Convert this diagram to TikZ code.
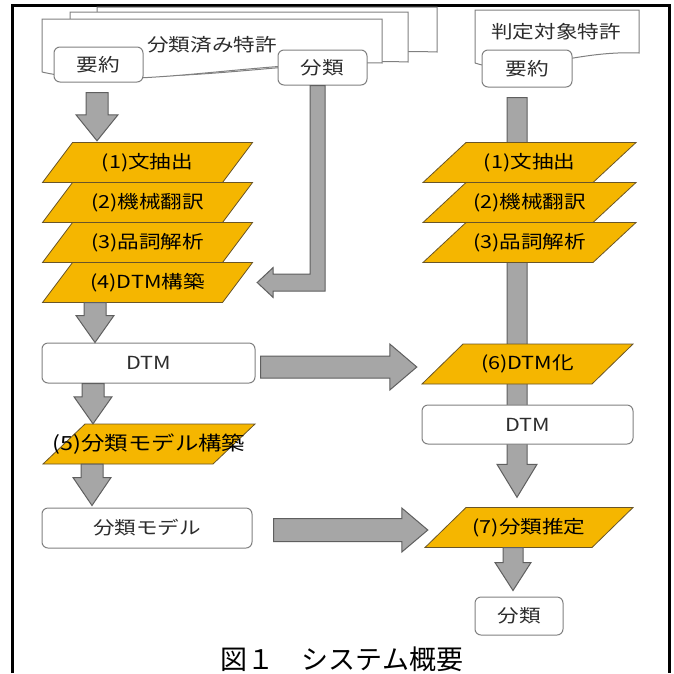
\documentclass[tikz,border=0pt]{standalone}
\usepackage{fontspec}
\newfontfamily\jpfont[FakeStretch=1.2]{Noto Sans CJK JP}
\newfontfamily\titlefont{Noto Sans CJK JP}
\usetikzlibrary{calc}
\definecolor{gold}{RGB}{245,182,0}
\definecolor{golddraw}{RGB}{105,85,40}
\definecolor{arrowfill}{RGB}{166,166,166}
\definecolor{arrowdraw}{RGB}{95,95,95}
\definecolor{boxdraw}{RGB}{128,128,128}
\definecolor{txt}{RGB}{45,45,45}
\pgfdeclarelayer{bg}
\pgfsetlayers{bg,main}
\newcommand\para[6]{%
  \path[pshape] (#2-#4/2+#5/2,#3-20) -- (#2+#4/2+#5/2,#3-20) -- (#2+#4/2-#5/2,#3+20) -- (#2-#4/2-#5/2,#3+20) -- cycle;
  \node[ptext, minimum width=#4, minimum height=40] (#1) at (#2,#3) {#6};
}
\newcommand\vblock[5]{%
  \draw[barrow] let \p1=(#1), \p2=(#2) in
   (\x1-#3pt,\y1) -- (\x1+#3pt,\y1) -- (\x1+#3pt,\y2+#5pt) -- (\x1+#4pt,\y2+#5pt) -- (\x1,\y2) -- (\x1-#4pt,\y2+#5pt) -- (\x1-#3pt,\y2+#5pt) -- cycle;
}
\newcommand\hblock[5]{%
  \draw[barrow] let \p1=(#1), \p2=(#2) in
   (\x1,\y1+#3pt) -- (\x2-#5pt,\y1+#3pt) -- (\x2-#5pt,\y1+#4pt) -- (\x2,\y1) -- (\x2-#5pt,\y1-#4pt) -- (\x2-#5pt,\y1-#3pt) -- (\x1,\y1-#3pt) -- cycle;
}
\begin{document}
\begin{tikzpicture}[x=1pt,y=-1pt,
  wbox/.style={draw=boxdraw, fill=white, rounded corners=6pt, line width=1pt, inner sep=0pt, font=\jpfont\fontsize{18}{18}\selectfont, text=txt},
  ptext/.style={inner sep=0pt, font=\jpfont\fontsize{18}{18}\selectfont, text=black},
  pshape/.style={fill=gold, draw=golddraw, line width=0.8pt},
  barrow/.style={fill=arrowfill, draw=arrowdraw, line width=1pt, line join=miter},
  doc/.style={fill=white, draw=boxdraw, line width=1pt},
  doclabel/.style={inner sep=0pt, font=\jpfont\fontsize{18}{18}\selectfont, text=txt},
]
\useasboundingbox (0,0) rectangle (674,673);
\begin{pgfonlayer}{bg}
\fill[white] (0,0) rectangle (674,673);
\end{pgfonlayer}
% outer frame
\draw[line width=3pt] (12,673) -- (12,5) -- (669,5) -- (669,673);

% stacked documents (left)
\draw[doc] (97,61) -- (97,7) -- (437,7) -- (437,52) .. controls (330,48) and (200,78) .. (97,61);
\draw[doc] (70,71) -- (70,12) -- (408,12) -- (408,62) .. controls (300,58) and (170,88) .. (70,71);
\draw[doc] (42,72) -- (42,19) -- (382,19) -- (382,63) .. controls (250,60) and (130,92) .. (42,72);
\node[doclabel] (docL) at (212,45) {分類済み特許};
\node[wbox, minimum width=89, minimum height=35] (yoyakuL) at (98.5,64.5) {要約};
\node[wbox, minimum width=89, minimum height=35] (bunruiTop) at (322.5,67.5) {分類};

% document (right)
\draw[doc] (475,63) -- (475,10) -- (639,10) -- (639,53) .. controls (570,50) and (520,78) .. (475,63);
\node[doclabel] (docR) at (556,32) {判定対象特許};
\node[wbox, minimum width=90, minimum height=37] (yoyakuR) at (527,68.5) {要約};

% left processing steps
\para{p1}{147.5}{162.5}{180}{30}{(1)文抽出}
\para{p2}{147.5}{202.5}{180}{30}{(2)機械翻訳}
\para{p3}{147.5}{242.5}{180}{30}{(3)品詞解析}
\para{p4}{147.5}{282.5}{180}{30}{(4)DTM構築}
\node[wbox, minimum width=213, minimum height=40] (dtmL) at (148.5,363) {DTM};
\para{p5}{149}{444}{170}{42}{\fontsize{19.5}{19.5}\selectfont(5)分類モデル構築}
\node[wbox, minimum width=210, minimum height=40] (modelL) at (147,528) {分類モデル};

% right processing steps
\para{q1}{529.5}{162.5}{170}{43}{(1)文抽出}
\para{q2}{529.5}{202.5}{170}{43}{(2)機械翻訳}
\para{q3}{529.5}{242.5}{170}{43}{(3)品詞解析}
\para{q6}{527.5}{364}{170}{41}{(6)DTM化}
\node[wbox, minimum width=211, minimum height=39] (dtmR) at (527.5,424.5) {DTM};
\para{q7}{529}{527.5}{167}{41}{(7)分類推定}
\node[wbox, minimum width=88, minimum height=38] (bunruiOut) at (519,616) {分類};

% block arrows
\coordinate (a1s) at ($(yoyakuL.south)+(-1.5,10)$);
\coordinate (a1e) at ($(p1.north)+(0,-1.5)$);
\vblock{a1s}{a1e}{11}{21}{26}
\coordinate (a2s) at ($(p4.south)+(-52.5,0)$);
\vblock{a2s}{dtmL.north}{11}{19}{27}
\coordinate (a3s) at ($(dtmL.south)+(-55.5,0)$);
\vblock{a3s}{p5.north}{11}{19}{27}
\coordinate (a4s) at ($(p5.south)+(-57,0)$);
\coordinate (a4e) at ($(modelL.north)+(0,-2)$);
\vblock{a4s}{a4e}{11}{19}{28}
\coordinate (a9s) at ($(q7.south)+(-16,0)$);
\coordinate (a9e) at ($(bunruiOut.north)+(0,-6)$);
\vblock{a9s}{a9e}{10}{18}{28}

\coordinate (a6s) at ($(dtmL.east)+(5,4)$);
\coordinate (a6e) at ($(q6.west)+(-25.5,0)$);
\hblock{a6s}{a6e}{11}{23}{27}
\coordinate (a7s) at ($(modelL.east)+(21,2)$);
\coordinate (a7e) at ($(q7.west)+(-17.5,0)$);
\hblock{a7s}{a7e}{11.5}{22}{26}

\draw[barrow] let \p1=($(bunruiTop.south)+(-5,0)$), \p2=($(p4.east)+(19.5,0)$) in
  (\x1-7.5pt,\y1) -- (\x1+7.5pt,\y1) -- (\x1+7.5pt,\y2-8.5pt) -- (\x2+16pt,\y2-8.5pt) -- (\x2+16pt,\y2-15pt) -- (\x2,\y2) -- (\x2+16pt,\y2+15pt) -- (\x2+16pt,\y2+8.5pt) -- (\x1-7.5pt,\y2+8.5pt) -- cycle;

\begin{pgfonlayer}{bg}
\coordinate (a8s) at ($(yoyakuR.south)+(-10,10)$);
\coordinate (a8e) at ($(q7.north)+(0,-10)$);
\vblock{a8s}{a8e}{10}{20}{33}
\end{pgfonlayer}

% caption
\node[font=\titlefont\fontsize{27}{27}\selectfont, inner sep=0pt] (title) at (342,659) {図１　システム概要};
\end{tikzpicture}
\end{document}
